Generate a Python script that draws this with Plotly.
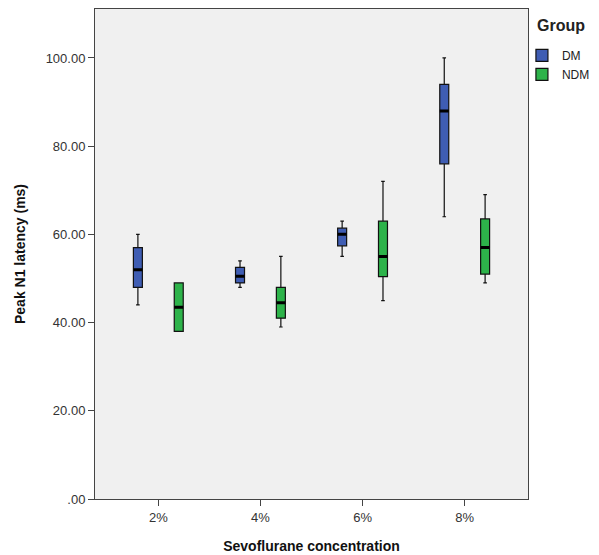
import plotly.graph_objects as go

categories = ["2%", "4%", "6%", "8%"]
groups = ["DM", "NDM"]
colors = {"DM": "#3f5db3", "NDM": "#2db34a"}

dm_low = [44, 48, 55, 64]
dm_q1 = [48, 49, 57.4, 76]
dm_med = [52, 50.5, 60, 88]
dm_q3 = [57, 52.5, 61.4, 94]
dm_high = [60, 54, 63, 100]

ndm_low = [38, 39, 45, 49]
ndm_q1 = [38, 41, 50.4, 51]
ndm_med = [43.5, 44.5, 55, 57]
ndm_q3 = [49, 48, 63, 63.5]
ndm_high = [49, 55, 72, 69]

yticks = [0, 20, 40, 60, 80, 100]
ytick_text = [".00", "20.00", "40.00", "60.00", "80.00", "100.00"]

data = {
    "DM": (dm_low, dm_q1, dm_med, dm_q3, dm_high),
    "NDM": (ndm_low, ndm_q1, ndm_med, ndm_q3, ndm_high),
}

fig = go.Figure()
for g in groups:
    lo, q1, med, q3, hi = data[g]
    fig.add_trace(go.Box(
        name=g, x=categories, q1=q1, median=med, q3=q3,
        lowerfence=lo, upperfence=hi,
        fillcolor=colors[g], line=dict(color="#111111", width=1.2),
        whiskerwidth=0.4, offsetgroup=g, boxpoints=False,
        hoverinfo="y",
    ))
    # thick median line overlay
    fig.add_trace(go.Box(
        name=g, x=categories, q1=med, median=med, q3=med,
        lowerfence=med, upperfence=med,
        fillcolor="rgba(0,0,0,0)", line=dict(color="#000000", width=3),
        whiskerwidth=0, offsetgroup=g, boxpoints=False, showlegend=False,
        hoverinfo="skip",
    ))

# page body has an 8px default margin, so the figure is sized to fit inside it
fig.update_layout(
    width=591, height=547,
    margin=dict(l=87, r=71, t=1, b=56, autoexpand=False),
    paper_bgcolor="white", plot_bgcolor="#f0f0f0",
    boxmode="group", boxgap=0.2, boxgroupgap=0.78,
    font=dict(family="Liberation Sans, Arial, sans-serif", size=12, color="#222"),
    legend=dict(
        x=0.986, xanchor="left", y=0.935, yanchor="top",
        font=dict(size=12, color="#222"), bgcolor="rgba(0,0,0,0)",
        itemwidth=30, tracegroupgap=0,
    ),
    showlegend=True,
    annotations=[dict(
        text="<b>Group</b>", xref="paper", yref="paper", x=1.016, y=0.967,
        xanchor="left", yanchor="middle", showarrow=False,
        font=dict(size=16, color="#222"),
    )],
)
fig.update_xaxes(
    type="category", categoryorder="array", categoryarray=categories,
    range=[-0.62, 3.62],
    showline=True, linecolor="#444", linewidth=1, mirror=True,
    ticks="outside", ticklen=6, tickcolor="#444",
    showgrid=False, zeroline=False, automargin=False,
    tickfont=dict(size=13, color="#333"),
    title=dict(text="<b>Sevoflurane concentration</b>", font=dict(size=14, color="#111"), standoff=17),
)
fig.update_yaxes(
    range=[0, 111.1], tickvals=yticks, ticktext=ytick_text,
    showline=True, linecolor="#444", linewidth=1, mirror=True,
    ticks="outside", ticklen=6, tickcolor="#444",
    showgrid=False, zeroline=False, automargin=False,
    tickfont=dict(size=13, color="#333"),
    title=dict(text="<b>Peak N1 latency (ms)</b>", font=dict(size=14, color="#111"), standoff=16),
)

fig.write_html("out.html")
